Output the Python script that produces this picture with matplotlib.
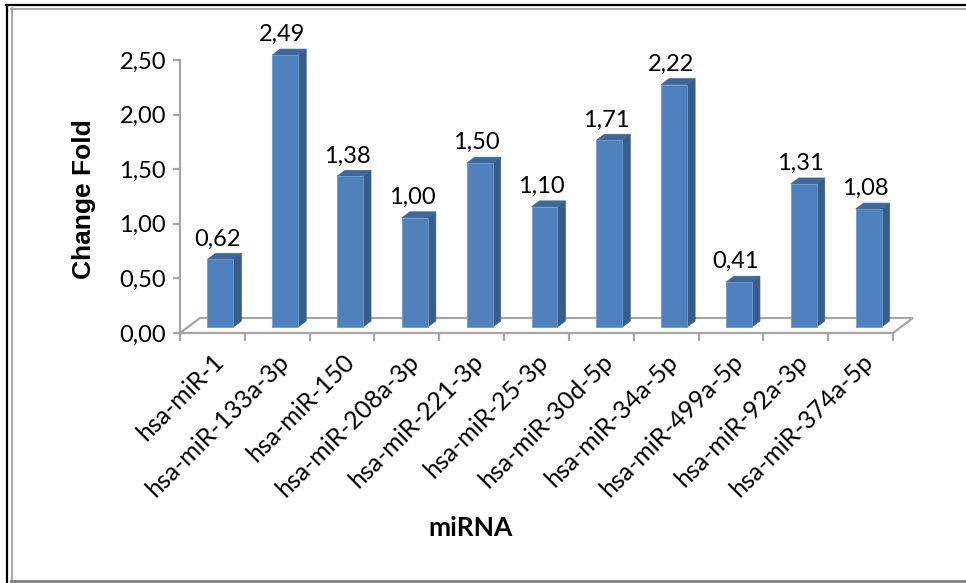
import matplotlib
matplotlib.use("Agg")
import matplotlib.pyplot as plt
from matplotlib.patches import Polygon
from matplotlib.lines import Line2D

# fold change per miRNA
mirnas = ["hsa-miR-1", "hsa-miR-133a-3p", "hsa-miR-150", "hsa-miR-208a-3p",
          "hsa-miR-221-3p", "hsa-miR-25-3p", "hsa-miR-30d-5p", "hsa-miR-34a-5p",
          "hsa-miR-499a-5p", "hsa-miR-92a-3p", "hsa-miR-374a-5p"]
fold = [0.62, 2.49, 1.38, 1.00, 1.50, 1.10, 1.71, 2.22, 0.41, 1.31, 1.08]
yticks = [0.0, 0.5, 1.0, 1.5, 2.0, 2.5]

W, H, DPI = 966, 583, 100
fig = plt.figure(figsize=(W / DPI, H / DPI), dpi=DPI)
fig.patch.set_facecolor("white")

# axes box in pixels (left, top, right, bottom)
L, T, R, B = 180, 60, 893, 333
ax = fig.add_axes([L / W, 1 - B / H, (R - L) / W, (B - T) / H])
n = len(mirnas)
ax.set_xlim(0, n)
ax.set_ylim(0, 2.5)
ax.patch.set_visible(False)

# pixel -> data unit conversion for the fake 3D depth
ux = n / (R - L)
uy = 2.5 / (B - T)

grey = "#A6A6A6"

# floor of the 3D plot
fdx, fdy = 20 * ux, 15 * uy
floor = Polygon([(0, 0), (n, 0), (n + fdx, fdy), (fdx, fdy)], closed=True,
                facecolor="white", edgecolor=grey, lw=1.6, clip_on=False, zorder=1)
ax.add_patch(floor)

# bars: front face, side and top
front_c, side_c, top_c = "#4F81BD", "#385D8A", "#3E679B"
ox, oy = 8 * ux, 6 * uy      # shift of the front face into the floor
dx, dy = 8 * ux, 6 * uy      # bar depth
bw = 0.40
for i, v in enumerate(fold):
    x0 = i + 0.5 - bw / 2 + ox
    x1 = x0 + bw
    y0, y1 = oy, v + oy
    ax.add_patch(Polygon([(x1, y0), (x1 + dx, y0 + dy), (x1 + dx, y1 + dy), (x1, y1)],
                         closed=True, facecolor=side_c, edgecolor=side_c, lw=0.5,
                         clip_on=False, zorder=3))
    ax.add_patch(Polygon([(x0, y1), (x1, y1), (x1 + dx, y1 + dy), (x0 + dx, y1 + dy)],
                         closed=True, facecolor=top_c, edgecolor=top_c, lw=0.5,
                         clip_on=False, zorder=3))
    ax.add_patch(Polygon([(x0, y0), (x1, y0), (x1, y1), (x0, y1)], closed=True,
                         facecolor=front_c, edgecolor="#6F9AD0", lw=0.6,
                         clip_on=False, zorder=4))
    ax.annotate(f"{v:.2f}".replace(".", ","), xy=((x0 + x1) / 2 - 3 * ux, y1),
                xytext=(0, 10), textcoords="offset points", ha="center",
                va="baseline", fontsize=17, family="Lato", color="black",
                zorder=5, annotation_clip=False)

# axes: only the value axis line is shown
for s in ["top", "right", "bottom"]:
    ax.spines[s].set_visible(False)
ax.spines["left"].set_color(grey)
ax.spines["left"].set_linewidth(1.6)
ax.spines["left"].set_zorder(2)

ax.set_yticks(yticks)
ax.set_yticklabels([f"{t:.2f}".replace(".", ",") for t in yticks],
                   fontsize=17, family="Lato")
ax.tick_params(axis="y", direction="out", length=5, width=1.6, color=grey, pad=5)

# category boundaries as major ticks, names on minor ticks
ax.set_xticks(range(n + 1))
ax.set_xticklabels([])
ax.tick_params(axis="x", which="major", direction="out", length=6, width=1.6, color=grey)
ax.set_xticks([i + 0.5 for i in range(n)], minor=True)
ax.set_xticklabels(mirnas, minor=True, rotation=45, ha="right",
                   rotation_mode="anchor", fontsize=18, family="Lato")
ax.tick_params(axis="x", which="minor", length=0, pad=12)

fig.text(84 / W, 1 - 199 / H, "Change Fold", rotation=90, ha="center", va="center",
         fontsize=19, fontweight="bold", family="Liberation Sans")
fig.text(471 / W, 1 - 528 / H, "miRNA", ha="center", va="center",
         fontsize=19, fontweight="bold", family="Lato")

# page frame around the chart
def fline(x, y, **kw):
    fig.add_artist(Line2D([p / W for p in x], [1 - p / H for p in y], **kw))

fline([6.5, 6.5], [5, 583], color="black", lw=1.6)
fline([6, 966], [5, 5], color="black", lw=1.6)
fline([11.5, 11.5], [8, 580], color="#9A9A9A", lw=1.2)
fline([11, 966], [8.5, 8.5], color="#9A9A9A", lw=1.2)
fline([11, 966], [581, 581], color="#808080", lw=2.0)

fig.savefig("out.png", dpi=DPI, facecolor="white")
